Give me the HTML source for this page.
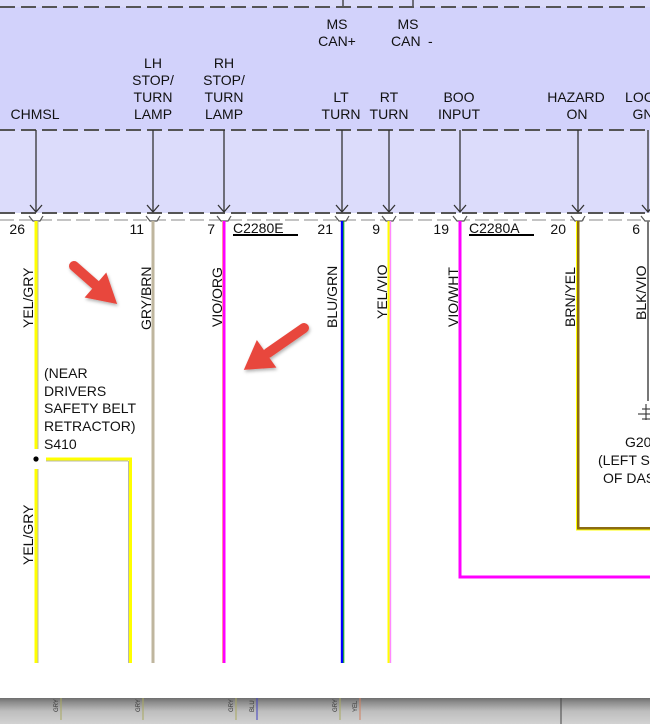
<!DOCTYPE html>
<html><head><meta charset="utf-8"><style>
html,body{margin:0;padding:0;background:#fff;}
svg{display:block;}
text{font-family:"Liberation Sans",Arial,sans-serif;font-size:14px;fill:#111;}
.sm{font-size:6px;fill:#333;}
</style></head><body>
<svg width="650" height="724" viewBox="0 0 650 724" xmlns="http://www.w3.org/2000/svg">
<defs>
<linearGradient id="gb" x1="0" y1="0" x2="0" y2="1">
<stop offset="0" stop-color="#6e6e6e"/>
<stop offset="0.15" stop-color="#8a8a8a"/>
<stop offset="0.5" stop-color="#bdbdbd"/>
<stop offset="1" stop-color="#d2d2d2"/>
</linearGradient>
<filter id="sh" x="-30%" y="-30%" width="160%" height="160%"><feDropShadow dx="1" dy="2" stdDeviation="1.5" flood-color="#000" flood-opacity="0.3"/></filter>
</defs>
<rect width="650" height="724" fill="#fff"/>
<rect x="0" y="0" width="650" height="7" fill="#dadaf9"/>
<rect x="0" y="7" width="650" height="123" fill="#d2d2fb"/>
<rect x="0" y="130" width="650" height="83" fill="#dcdcfb"/>

<line x1="343" y1="0" x2="343" y2="7" stroke="#333" stroke-width="1.3"/>
<line x1="413" y1="0" x2="413" y2="7" stroke="#333" stroke-width="1.3"/>

<line x1="0" y1="7" x2="650" y2="7" stroke="#555" stroke-width="2" stroke-dasharray="15 6"/>
<line x1="0" y1="130" x2="650" y2="130" stroke="#555" stroke-width="2" stroke-dasharray="15 6"/>
<line x1="0" y1="213" x2="650" y2="213" stroke="#555" stroke-width="2" stroke-dasharray="15 6"/>

<line x1="0" y1="220" x2="650" y2="220" stroke="#8a8a8a" stroke-width="1" stroke-dasharray="14 5"/>

<g stroke="#333" stroke-width="1.3" fill="none">
<line x1="36" y1="130" x2="36" y2="212"/><polyline points="30,205 36,212 42,205"/>
<line x1="153" y1="130" x2="153" y2="212"/><polyline points="147,205 153,212 159,205"/>
<line x1="224" y1="130" x2="224" y2="212"/><polyline points="218,205 224,212 230,205"/>
<line x1="342" y1="130" x2="342" y2="212"/><polyline points="336,205 342,212 348,205"/>
<line x1="389" y1="130" x2="389" y2="212"/><polyline points="383,205 389,212 395,205"/>
<line x1="460" y1="130" x2="460" y2="212"/><polyline points="454,205 460,212 466,205"/>
<line x1="578" y1="130" x2="578" y2="212"/><polyline points="572,205 578,212 584,205"/>
<line x1="648" y1="130" x2="648" y2="212"/><polyline points="642,205 648,212 654,205"/>
</g>

<g stroke="#555" stroke-width="1.2" fill="#fff">
<path d="M29,216 L33,221 L40,221 L43,216"/>
<path d="M146,216 L150,221 L157,221 L160,216"/>
<path d="M217,216 L221,221 L228,221 L231,216"/>
<path d="M335,216 L339,221 L346,221 L349,216"/>
<path d="M382,216 L386,221 L393,221 L396,216"/>
<path d="M453,216 L457,221 L464,221 L467,216"/>
<path d="M571,216 L575,221 L582,221 L585,216"/>
<path d="M641,216 L645,221 L652,221 L655,216"/>
</g>

<g text-anchor="middle">
<text x="35" y="119">CHMSL</text>
<text x="153" y="68">LH</text><text x="153" y="85">STOP/</text><text x="153" y="102">TURN</text><text x="153" y="119">LAMP</text>
<text x="224" y="68">RH</text><text x="224" y="85">STOP/</text><text x="224" y="102">TURN</text><text x="224" y="119">LAMP</text>
<text x="337" y="29">MS</text><text x="337" y="46">CAN+</text>
<text x="408" y="29">MS</text>
<text x="341" y="102">LT</text><text x="341" y="119">TURN</text>
<text x="389" y="102">RT</text><text x="389" y="119">TURN</text>
<text x="459" y="102">BOO</text><text x="459" y="119">INPUT</text>
<text x="576" y="102">HAZARD</text><text x="577" y="119">ON</text>
<text x="648" y="102">LOCAL</text><text x="648" y="119">GND</text>
</g>
<text x="391" y="46">CAN</text><text x="428" y="46">-</text>

<g text-anchor="end">
<text x="25" y="234">26</text>
<text x="144" y="234">11</text>
<text x="215" y="234">7</text>
<text x="333" y="234">21</text>
<text x="380" y="234">9</text>
<text x="449" y="234">19</text>
<text x="566" y="234">20</text>
<text x="640" y="234">6</text>
</g>
<text x="233" y="233">C2280E</text>
<rect x="233" y="234" width="65" height="2" fill="#000"/>
<text x="469" y="233">C2280A</text>
<rect x="469" y="234" width="65" height="2" fill="#000"/>

<rect x="34.5" y="221" width="3" height="228" fill="#ffff00"/>
<rect x="37.5" y="221" width="1" height="228" fill="#b8b8a8"/>
<rect x="34.5" y="469" width="3" height="194" fill="#ffff00"/>
<rect x="37.5" y="469" width="1" height="194" fill="#b8b8a8"/>
<circle cx="36" cy="459" r="2.6" fill="#000"/>
<rect x="46" y="457.5" width="86" height="3" fill="#ffff00"/>
<rect x="46" y="460.5" width="82" height="1" fill="#b8b8a8"/>
<rect x="129" y="457.5" width="3" height="205.5" fill="#ffff00"/>
<rect x="128" y="461" width="1" height="202" fill="#b8b8a8"/>
<rect x="151.5" y="221" width="3" height="442" fill="#bfb69e"/>
<rect x="222" y="221" width="1" height="442" fill="#ff90a0"/>
<rect x="223" y="221" width="2.5" height="442" fill="#ff00ff"/>
<rect x="340.8" y="221" width="2.5" height="442" fill="#0000ff"/>
<rect x="343.3" y="221" width="1" height="442" fill="#00b000"/>
<rect x="387.5" y="221" width="2.2" height="442" fill="#ffff00"/>
<rect x="389.7" y="221" width="1.5" height="442" fill="#ff88ff"/>
<rect x="458.5" y="221" width="3" height="357.5" fill="#ff00ff"/>
<rect x="458.5" y="575.5" width="191.5" height="3" fill="#ff00ff"/>
<rect x="576" y="221" width="1" height="309.5" fill="#ffff00"/>
<rect x="577" y="221" width="2.5" height="308" fill="#8b6b14"/>
<rect x="577" y="527" width="73" height="2.5" fill="#8b6b14"/>
<rect x="576" y="529.5" width="74" height="1" fill="#ffff00"/>
<rect x="647" y="221" width="2" height="180" fill="#777"/>
<g stroke="#333" stroke-width="1.1">
<line x1="646" y1="404" x2="646" y2="420"/>
<line x1="642" y1="409" x2="650" y2="409"/>
<line x1="638" y1="414" x2="650" y2="414"/>
<line x1="642" y1="419" x2="650" y2="419"/>
</g>

<text transform="translate(33,328) rotate(-90)">YEL/GRY</text>
<text transform="translate(151,330) rotate(-90)">GRY/BRN</text>
<text transform="translate(222,327) rotate(-90)">VIO/ORG</text>
<text transform="translate(337,328) rotate(-90)">BLU/GRN</text>
<text transform="translate(387,319) rotate(-90)">YEL/VIO</text>
<text transform="translate(458,327) rotate(-90)">VIO/WHT</text>
<text transform="translate(575,327) rotate(-90)">BRN/YEL</text>
<text transform="translate(646,320) rotate(-90)">BLK/VIO</text>
<text transform="translate(33,565) rotate(-90)">YEL/GRY</text>

<text x="44" y="378">(NEAR</text>
<text x="44" y="396">DRIVERS</text>
<text x="44" y="413">SAFETY BELT</text>
<text x="44" y="431">RETRACTOR)</text>
<text x="44" y="449">S410</text>

<text x="625" y="447">G203</text>
<text x="598" y="465">(LEFT SIDE</text>
<text x="603" y="483">OF DASH)</text>

<g fill="#e8473d" stroke="#e8473d" filter="url(#sh)">
<line x1="74" y1="266" x2="99" y2="288" stroke-width="10" stroke-linecap="round"/>
<polygon points="116,303 86,297 106,274" stroke-width="1.5"/>
<line x1="304" y1="328" x2="268" y2="353" stroke-width="10" stroke-linecap="round"/>
<polygon points="245,369 275,367 257,341.5" stroke-width="1.5"/>
</g>

<rect x="0" y="698" width="650" height="26" fill="url(#gb)"/>
<line x1="561" y1="698" x2="561" y2="724" stroke="#444" stroke-width="1"/>
<g stroke-width="1">
<line x1="61" y1="698" x2="61" y2="720" stroke="#a8a860"/>
<line x1="143" y1="698" x2="143" y2="720" stroke="#a8a860"/>
<line x1="236" y1="698" x2="236" y2="720" stroke="#a8a860"/>
<line x1="257" y1="698" x2="257" y2="720" stroke="#4040c0"/>
<line x1="340" y1="698" x2="340" y2="720" stroke="#a8a860"/>
<line x1="360" y1="698" x2="360" y2="720" stroke="#d08060"/>
</g>
<text class="sm" transform="translate(58,712) rotate(-90)">GRY</text>
<text class="sm" transform="translate(140,712) rotate(-90)">GRY</text>
<text class="sm" transform="translate(233,712) rotate(-90)">GRY</text>
<text class="sm" transform="translate(254,712) rotate(-90)">BLU</text>
<text class="sm" transform="translate(337,712) rotate(-90)">GRY</text>
<text class="sm" transform="translate(357,712) rotate(-90)">YEL</text>
</svg>
</body></html>
